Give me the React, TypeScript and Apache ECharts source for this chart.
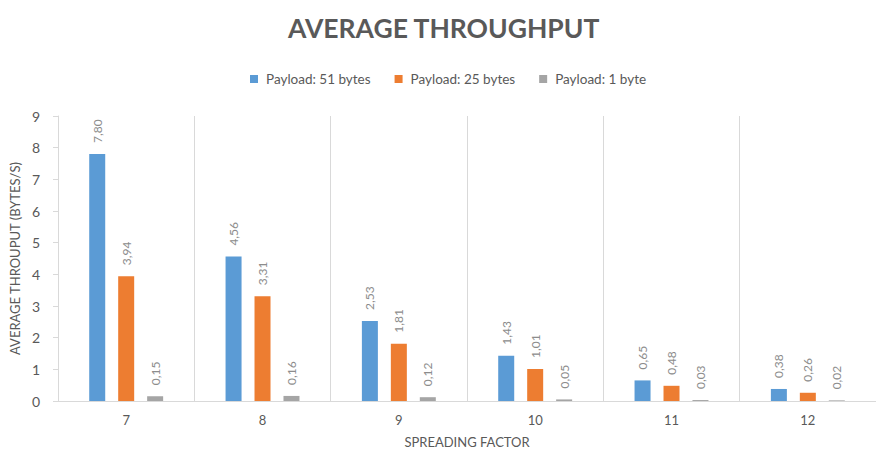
import React, { useEffect, useRef } from "react";
import * as echarts from "echarts";

const categories = ["7", "8", "9", "10", "11", "12"];
const payload51 = [7.8, 4.56, 2.53, 1.43, 0.65, 0.38];
const payload25 = [3.94, 3.31, 1.81, 1.01, 0.48, 0.26];
const payload1 = [0.15, 0.16, 0.12, 0.05, 0.03, 0.02];
const seriesNames = ["Payload: 51 bytes", "Payload: 25 bytes", "Payload: 1 byte"];
const colors = ["#5b9bd5", "#ed7d31", "#a5a5a5"];

const FONT = "Lato, 'Open Sans', sans-serif";

export default function App() {
  const ref = useRef<HTMLDivElement>(null);
  useEffect(() => {
    if (!ref.current) return;
    const chart = echarts.init(ref.current, undefined, { renderer: "svg" });
    const label = {
      show: true,
      position: "top",
      rotate: 90,
      align: "left",
      verticalAlign: "middle",
      distance: 11,
      color: "#8c8c8c",
      fontSize: 12,
      fontFamily: FONT,
      formatter: (p: any) => Number(p.value).toFixed(2).replace(".", ","),
    };
    const datasets = [payload51, payload25, payload1];
    chart.setOption({
      animation: false,
      textStyle: { fontFamily: FONT },
      title: {
        text: "AVERAGE THROUGHPUT",
        left: 283,
        top: 9,
        textStyle: { fontSize: 26.5, fontWeight: "bold", color: "#595959", fontFamily: FONT },
      },
      legend: {
        top: 67,
        left: 245,
        itemWidth: 8,
        itemHeight: 8,
        itemGap: 24,
        icon: "rect",
        textStyle: { color: "#595959", fontSize: 13.5, fontFamily: FONT, padding: [0, 0, 0, 3] },
        data: seriesNames,
      },
      grid: { left: 55, right: -6, top: 116, bottom: 50, containLabel: false },
      xAxis: {
        type: "category",
        data: categories,
        name: "SPREADING FACTOR",
        nameLocation: "middle",
        nameGap: 34,
        nameTextStyle: { color: "#595959", fontSize: 13, fontFamily: FONT },
        axisLine: { show: true, lineStyle: { color: "#d9d9d9" } },
        axisTick: { show: false },
        axisLabel: { color: "#595959", fontSize: 13, margin: 12, fontFamily: FONT },
        splitLine: { show: true, lineStyle: { color: "#d9d9d9", width: 1 } },
      },
      yAxis: {
        type: "value",
        min: 0,
        max: 9,
        interval: 1,
        name: "AVERAGE THROUPUT (BYTES/S)",
        nameLocation: "middle",
        nameGap: 28,
        nameRotate: 90,
        nameTextStyle: { color: "#595959", fontSize: 13, fontFamily: FONT },
        axisLine: { show: true, lineStyle: { color: "#d9d9d9" } },
        axisTick: { show: true, length: 5, lineStyle: { color: "#d9d9d9" } },
        axisLabel: { color: "#595959", fontSize: 14, margin: 18, fontFamily: FONT },
        splitLine: { show: false },
      },
      series: seriesNames.map((name, i) => ({
        name,
        type: "bar",
        data: datasets[i],
        barWidth: 16,
        barGap: "81%",
        itemStyle: { color: colors[i] },
        label,
      })),
    });
    return () => chart.dispose();
  }, []);
  return (
    <div
      ref={ref}
      style={{ position: "fixed", left: 0, top: 0, width: 876, height: 453, background: "#fff" }}
    />
  );
}
